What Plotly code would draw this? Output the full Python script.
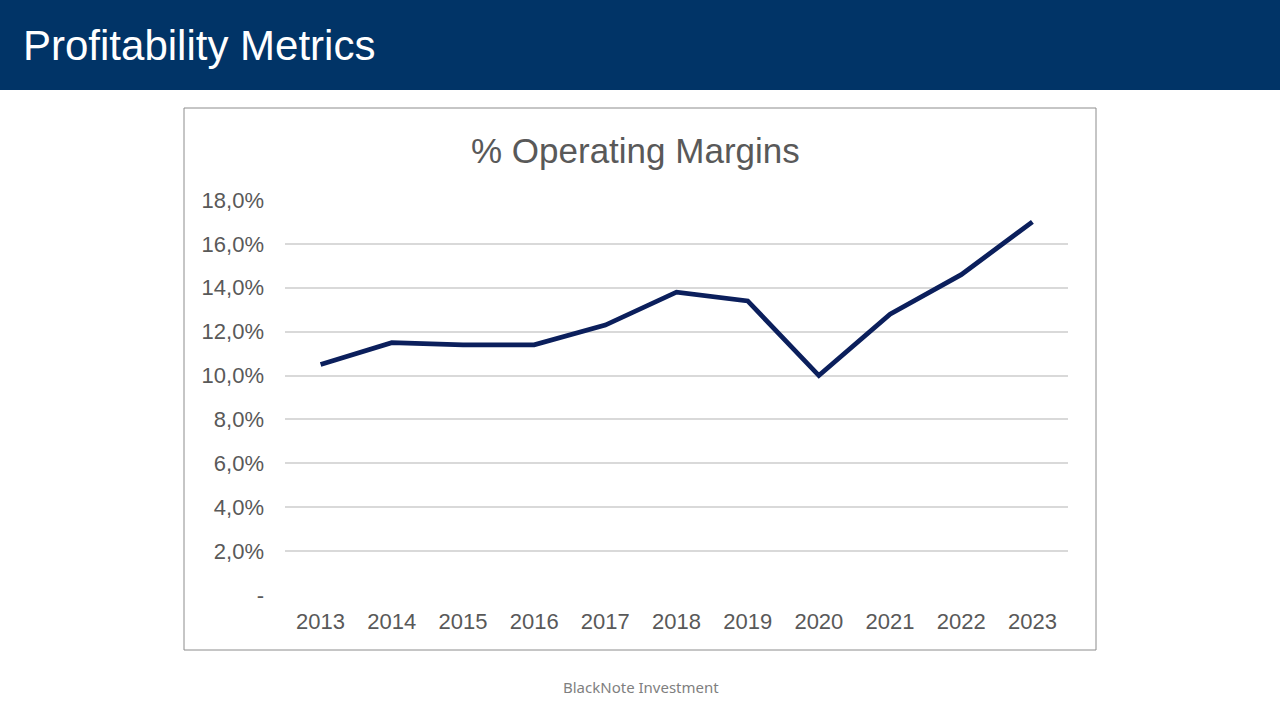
import plotly.graph_objects as go

years = ["2013", "2014", "2015", "2016", "2017", "2018", "2019", "2020", "2021", "2022", "2023"]
margins = [10.5, 11.5, 11.4, 11.4, 12.3, 13.8, 13.4, 10.0, 12.8, 14.6, 17.0]
y_ticks = [0, 2, 4, 6, 8, 10, 12, 14, 16, 18]
y_labels = ["-", "2,0%", "4,0%", "6,0%", "8,0%", "10,0%", "12,0%", "14,0%", "16,0%", "18,0%"]

W, H = 1280, 720
FONT = "Liberation Sans, Arial, sans-serif"
GREY = "#595959"

fig = go.Figure()
fig.add_trace(go.Scatter(
    x=years, y=margins, mode="lines",
    line=dict(color="#0b1f5c", width=4.8),
    hoverinfo="x+y",
))

fig.update_layout(
    width=W, height=H,
    margin=dict(l=0, r=0, t=0, b=0, autoexpand=False),
    paper_bgcolor="white", plot_bgcolor="white",
    showlegend=False,
    font=dict(family=FONT, color=GREY),
    xaxis=dict(
        domain=[285 / W, 1068 / W],
        type="category", range=[-0.5, 10.5],
        showgrid=False, showline=False, zeroline=False, ticks="",
        tickfont=dict(size=22, color=GREY),
        ticklabelstandoff=11,
    ),
    yaxis=dict(
        domain=[(H - 595) / H, (H - 200) / H],
        range=[0, 18],
        tickvals=y_ticks, ticktext=y_labels,
        showgrid=True, gridcolor="#d9d9d9", gridwidth=1.5,
        zeroline=False, showline=False, ticks="",
        tickfont=dict(size=22, color=GREY),
        ticklabelstandoff=20,
    ),
    shapes=[
        dict(type="rect", xref="paper", yref="paper", x0=0, x1=1,
             y0=(H - 90) / H, y1=1, fillcolor="#013467", line=dict(width=0), layer="below"),
        dict(type="rect", xref="paper", yref="paper", x0=184 / W, x1=1096 / W,
             y0=(H - 650) / H, y1=(H - 108) / H, line=dict(color="#8c8c8c", width=1),
             fillcolor="rgba(0,0,0,0)", layer="below"),
    ],
    annotations=[
        dict(text="Profitability Metrics", xref="paper", yref="paper",
             x=21 / W, y=(H - 45) / H, xanchor="left", yanchor="middle",
             showarrow=False, font=dict(size=42, color="white", family=FONT)),
        dict(text="% Operating Margins", xref="paper", yref="paper",
             x=635 / W, y=(H - 150) / H, xanchor="center", yanchor="middle",
             showarrow=False, font=dict(size=35, color=GREY, family=FONT)),
        dict(text="BlackNote Investment", xref="paper", yref="paper",
             x=641 / W, y=(H - 687) / H, xanchor="center", yanchor="middle",
             showarrow=False, font=dict(size=15, color="#7f7f7f", family="Noto Sans, sans-serif")),
    ],
)

# pin the figure to the window's corner so the page is exactly 1280x720
pin = (
    "document.body.style.margin='0';"
    "document.body.style.overflow='hidden';"
    "var gd=document.getElementById('{plot_id}');"
    "gd.style.position='fixed';gd.style.top='0';gd.style.left='0';"
)
fig.write_html("out.html", post_script=pin, config={"displayModeBar": False})
